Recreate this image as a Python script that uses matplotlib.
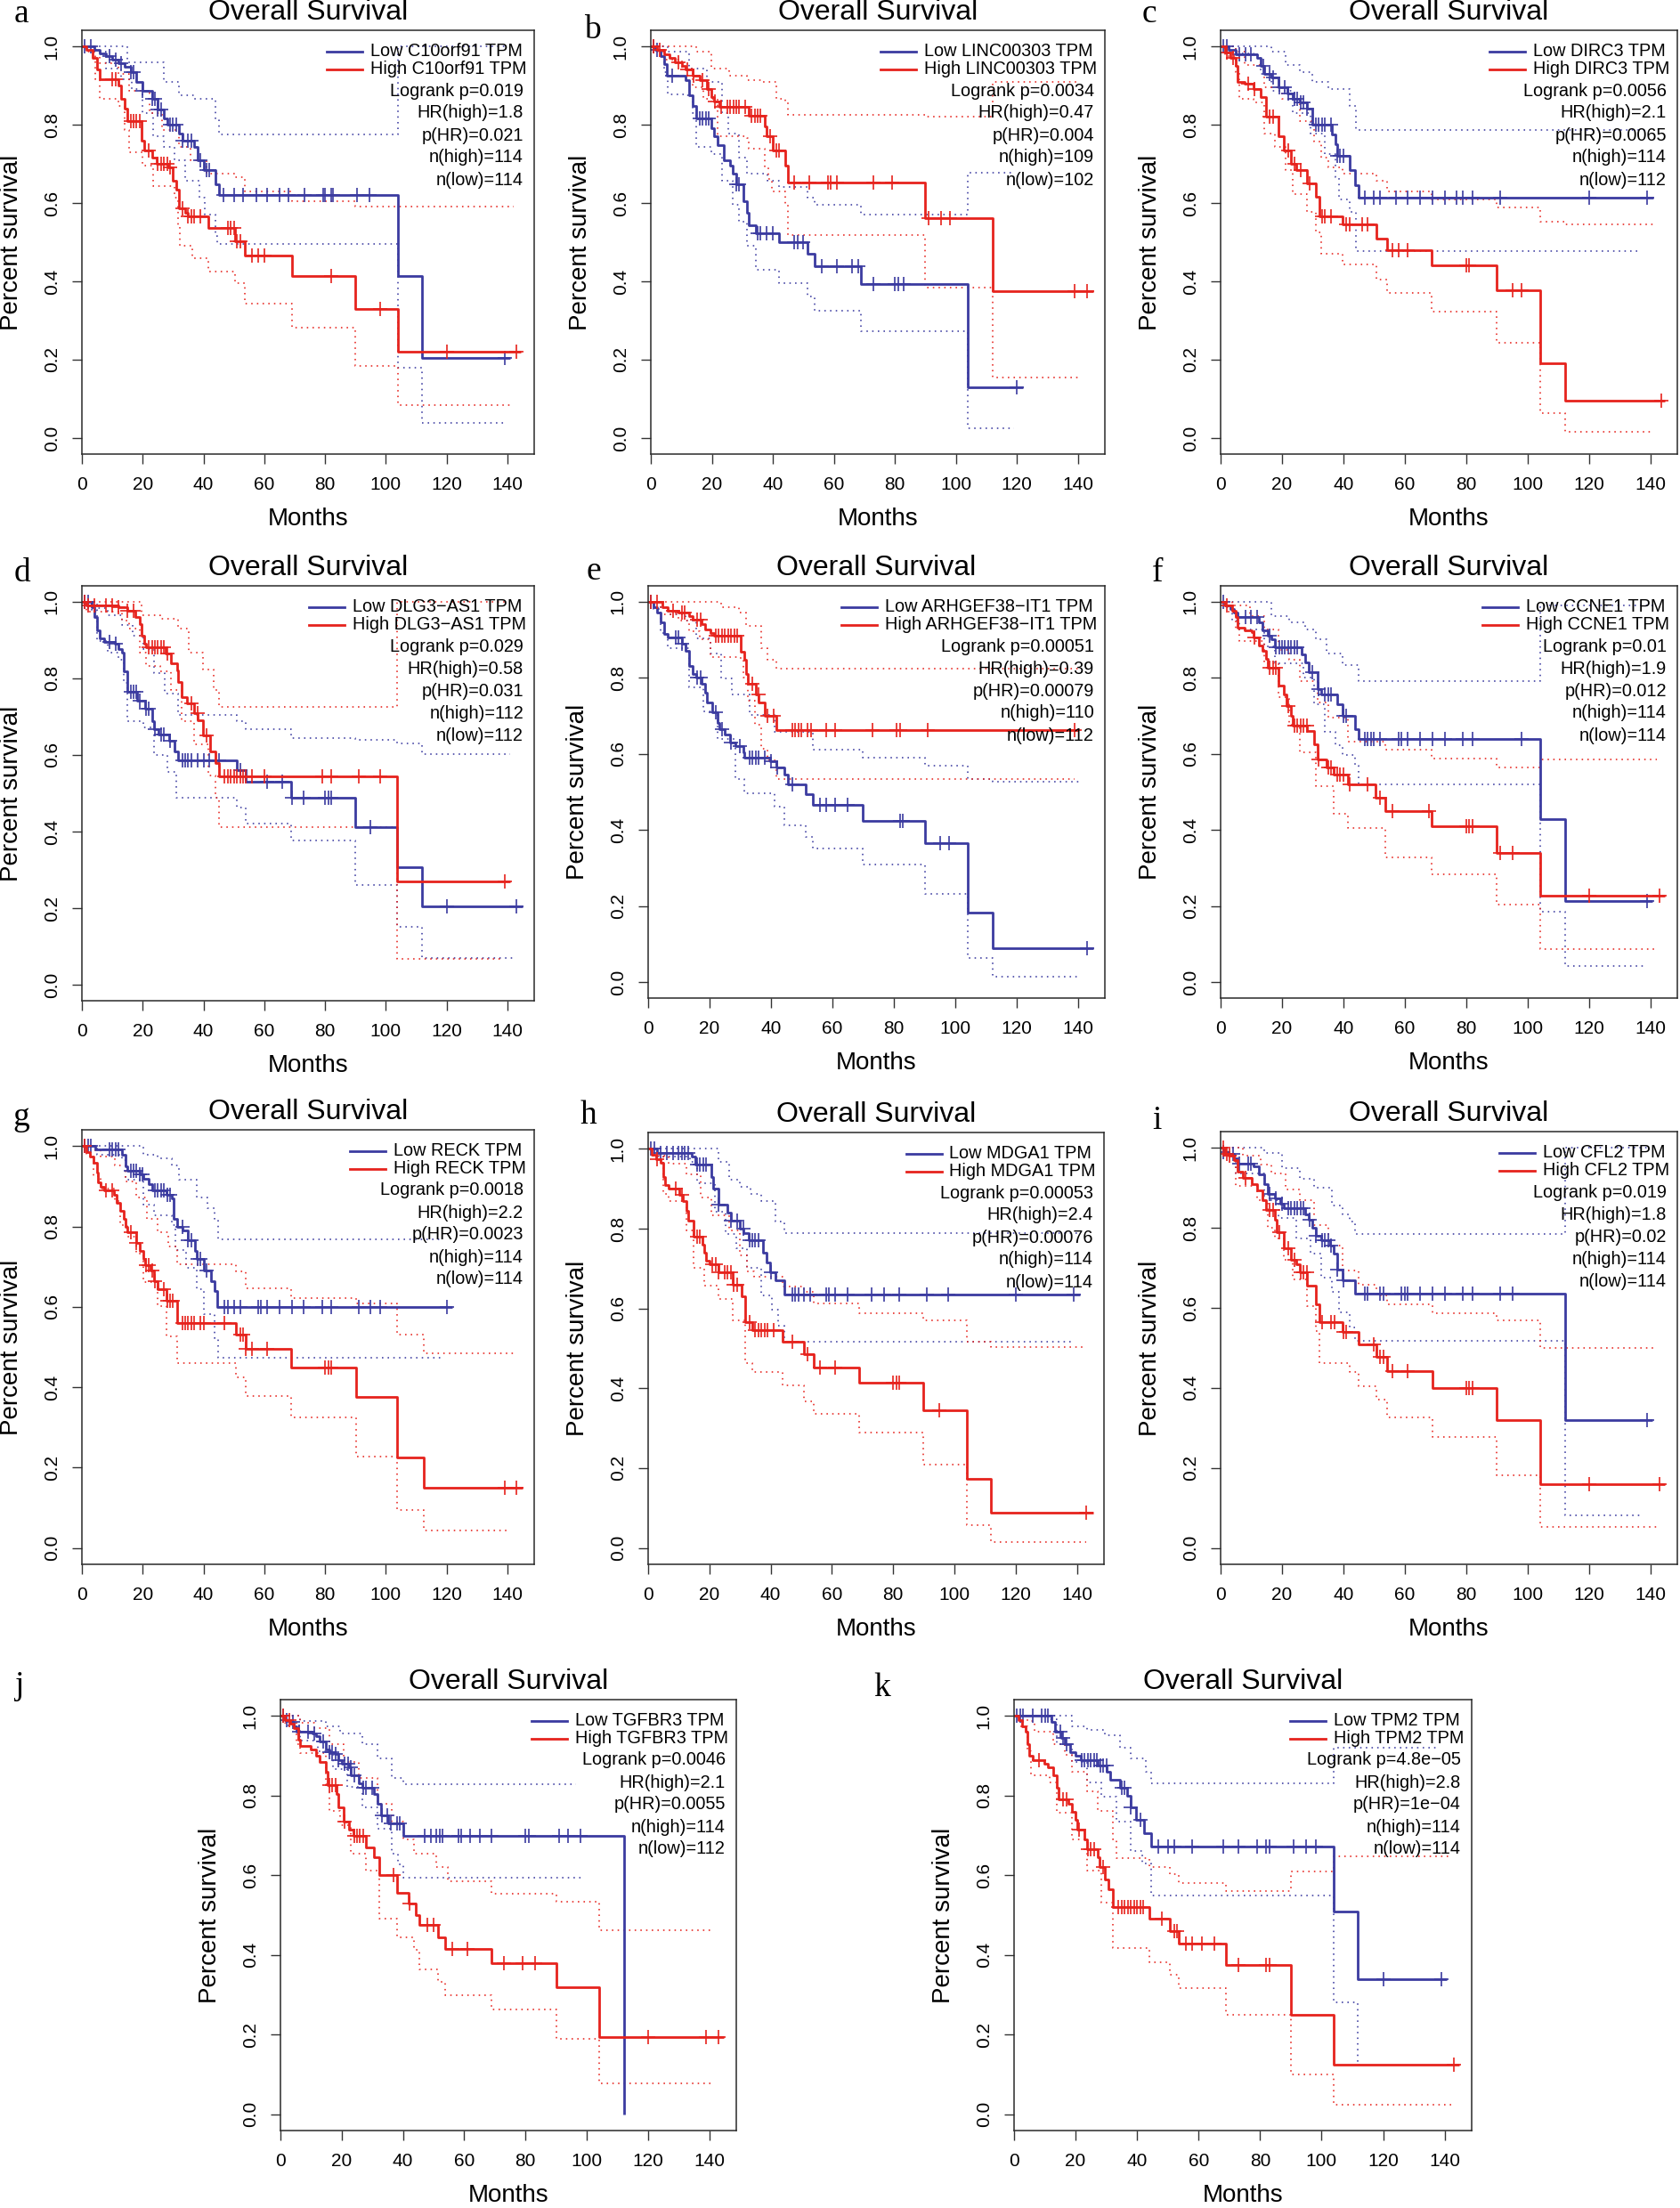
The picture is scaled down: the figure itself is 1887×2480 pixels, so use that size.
import matplotlib
matplotlib.use('Agg')
import matplotlib.pyplot as plt

plt.rcParams['font.family'] = ['Liberation Sans', 'DejaVu Sans']

BLUE = '#3b3ba0'
RED = '#e6231d'

panel_letters = ['a', 'b', 'c', 'd', 'e', 'f', 'g', 'h', 'i', 'j', 'k']
genes = ['C10orf91', 'LINC00303', 'DIRC3', 'DLG3\u2212AS1', 'ARHGEF38\u2212IT1', 'CCNE1',
         'RECK', 'MDGA1', 'CFL2', 'TGFBR3', 'TPM2']
logrank_p = ['0.019', '0.0034', '0.0056', '0.029', '0.00051', '0.01', '0.0018', '0.00053',
             '0.019', '0.0046', '4.8e\u221205']
hr_high = ['1.8', '0.47', '2.1', '0.58', '0.39', '1.9', '2.2', '2.4', '1.8', '2.1', '2.8']
p_hr = ['0.021', '0.004', '0.0065', '0.031', '0.00079', '0.012', '0.0023', '0.00076', '0.02',
        '0.0055', '1e\u221204']
n_high = [114, 109, 114, 112, 110, 114, 114, 114, 114, 114, 114]
n_low = [114, 102, 112, 112, 112, 114, 114, 114, 114, 112, 114]

x_ticks = [0, 20, 40, 60, 80, 100, 120, 140]
y_ticks = [0.0, 0.2, 0.4, 0.6, 0.8, 1.0]
y_tick_labels = ['0.0', '0.2', '0.4', '0.6', '0.8', '1.0']

# ---------------- panel a ----------------
a_low_km = [(0, 1), (4, 0.991), (6, 0.982), (8, 0.974), (10, 0.965), (12, 0.957), (14, 0.948), (16, 0.935),
            (18, 0.909), (20, 0.887), (23, 0.865), (25, 0.839), (27, 0.817), (28, 0.80), (32, 0.778),
            (33, 0.759), (37, 0.743), (38, 0.709), (40, 0.683), (44, 0.648), (45, 0.62), (104, 0.413),
            (112, 0.205), (141, 0.205)]
a_low_cens = [1, 3, 9, 11, 13, 16, 17, 20, 23, 24, 25, 26, 29, 30, 31, 33, 35, 36, 39, 41, 42, 46.7, 50, 53,
              57.4, 60.9, 65, 67.9, 73.2, 79.3, 80.1, 81.9, 82.5, 90.6, 94.7, 139]
a_low_up = [(0, 1), (10, 1), (15, 0.96), (27, 0.91), (32, 0.874), (37, 0.865), (44, 0.813), (45, 0.774),
            (104, 1.0), (139, 1.0)]
a_low_lo = [(0, 1), (3.8, 0.987), (8, 0.943), (13, 0.917), (16.5, 0.89), (20, 0.83), (23.5, 0.77), (27, 0.743),
            (30.5, 0.709), (34, 0.656), (38.7, 0.613), (40.5, 0.57), (44, 0.517), (44.6, 0.496), (104, 0.18),
            (112, 0.039), (139, 0.039)]
a_high_km = [(0, 1), (1.5, 0.99), (3.5, 0.97), (5, 0.94), (6, 0.917), (12, 0.9), (13, 0.865), (14, 0.84),
             (15, 0.809), (19.5, 0.76), (20.5, 0.735), (23, 0.717), (24.5, 0.70), (28.5, 0.69), (30, 0.657),
             (31, 0.635), (32, 0.587), (34, 0.574), (35, 0.565), (41.7, 0.537), (50.4, 0.502), (53.7, 0.465),
             (69, 0.413), (90, 0.33), (104, 0.22), (144.3, 0.22)]
a_high_cens = [10, 11, 16, 17, 18, 19, 22, 25, 26, 27, 28, 29, 33, 35, 36, 37, 39, 48, 49, 50, 51, 52, 56, 58,
               60, 82, 98, 120, 143]
a_high_up = [(0, 1), (4.3, 0.99), (6, 0.957), (12, 0.93), (15.4, 0.887), (22.4, 0.83), (26.5, 0.787),
             (32, 0.743), (35.7, 0.709), (41.1, 0.674), (50.4, 0.665), (53.7, 0.63), (69, 0.604), (90, 0.591),
             (142, 0.591)]
a_high_lo = [(0, 1), (1.4, 0.987), (4.3, 0.917), (6, 0.865), (12, 0.848), (14.2, 0.787), (15.4, 0.73),
             (20, 0.696), (23.5, 0.643), (30.5, 0.613), (31.7, 0.543), (32.3, 0.491), (36.4, 0.458),
             (41.7, 0.426), (50.4, 0.396), (53.7, 0.343), (69, 0.281), (90, 0.183), (104, 0.083), (142, 0.083)]

# ---------------- panel b ----------------
b_low_km = [(0, 1), (1.5, 0.99), (3.3, 0.975), (4.4, 0.955), (5.3, 0.926), (11.5, 0.913), (12.6, 0.874),
            (13.8, 0.848), (15, 0.817), (19.7, 0.79), (20.8, 0.77), (22, 0.748), (23.8, 0.709), (26, 0.696),
            (26.7, 0.674), (27.9, 0.648), (30.2, 0.604), (31.4, 0.574), (32, 0.543), (34.3, 0.522), (41.9, 0.50),
            (51.3, 0.47), (53.6, 0.439), (68.9, 0.394), (104, 0.13), (122, 0.13)]
b_low_cens = [1, 2, 7, 16, 17, 18, 19, 28, 29, 35, 36, 38, 40, 47, 48, 50, 56, 61, 66, 68, 73, 80, 81, 83, 120]
b_low_up = [(0, 1), (5.6, 0.987), (12.6, 0.943), (18.5, 0.909), (23.2, 0.83), (25.5, 0.778), (29, 0.717),
            (31.4, 0.674), (38.3, 0.657), (41.9, 0.64), (51.3, 0.613), (53.6, 0.596), (68.9, 0.57), (104, 0.678),
            (119, 0.678)]
b_low_lo = [(0, 1), (4.4, 0.935), (5.6, 0.878), (11.5, 0.874), (13.8, 0.83), (15, 0.743), (19.7, 0.726),
            (23.2, 0.657), (26.7, 0.596), (29, 0.552), (31.4, 0.491), (34.3, 0.43), (41.9, 0.396), (51.3, 0.361),
            (53.6, 0.324), (68.9, 0.272), (104, 0.026), (119, 0.026)]
b_high_km = [(0, 1), (2, 0.99), (4.5, 0.98), (6.2, 0.97), (8, 0.96), (10.3, 0.95), (11.5, 0.94), (13.8, 0.925),
             (16, 0.913), (18.5, 0.89), (19.7, 0.87), (20.8, 0.86), (22.6, 0.845), (32, 0.822), (37.2, 0.796),
             (38, 0.77), (40, 0.735), (44, 0.696), (44.8, 0.652), (90, 0.561), (112, 0.374), (145, 0.374)]
b_high_cens = [1, 3, 9, 12, 14, 17, 19, 21, 23, 25, 26, 27, 28, 29, 31, 33, 34, 35, 36, 39, 41, 42, 47, 52, 58,
               59, 61, 73, 79, 91, 95, 98, 139, 143]
b_high_up = [(0, 1), (10.3, 1.0), (15, 0.987), (19.7, 0.943), (25.6, 0.926), (31.5, 0.913), (36.8, 0.909),
             (41, 0.865), (44, 0.857), (44.8, 0.824), (90, 0.82), (112, 0.909), (140, 0.909)]
b_high_lo = [(0, 1), (1.5, 0.987), (4.4, 0.965), (10.3, 0.943), (13.8, 0.896), (17.3, 0.865), (22, 0.77),
             (31.4, 0.765), (32, 0.739), (37.2, 0.691), (38.4, 0.661), (39.6, 0.63), (44.2, 0.596), (44.8, 0.519),
             (90, 0.383), (112, 0.154), (141, 0.154)]

# ---------------- panel c ----------------
c_low_km = [(0, 1), (2.7, 0.99), (5, 0.98), (12, 0.97), (13, 0.95), (14.3, 0.93), (16.6, 0.92), (18.9, 0.895),
            (21.8, 0.88), (23.5, 0.865), (25.8, 0.857), (28, 0.84), (30, 0.80), (36.2, 0.775), (37.4, 0.75),
            (38, 0.72), (42, 0.685), (43.8, 0.645), (45, 0.613), (141, 0.613)]
c_low_cens = [1, 2, 6, 8, 10, 14, 16, 17, 19, 21, 22, 24, 25, 26, 27, 28, 31, 32, 33, 34, 36, 38, 39, 40, 47,
              50, 52, 57, 61, 65, 69, 73, 77, 79, 82, 91, 120, 139]
c_low_up = [(0, 1), (12, 1), (16.6, 0.987), (21.2, 0.952), (25.8, 0.935), (29.9, 0.909), (35.1, 0.891),
            (42, 0.848), (44.2, 0.787), (139, 0.787)]
c_low_lo = [(0, 1), (5, 0.983), (10.8, 0.978), (13, 0.93), (16.6, 0.887), (23.5, 0.83), (29.3, 0.778),
            (33.9, 0.726), (37.4, 0.665), (38.6, 0.609), (42, 0.578), (44.2, 0.478), (137, 0.478)]
c_high_km = [(0, 1), (1.5, 0.985), (3.2, 0.97), (4.8, 0.95), (5.6, 0.91), (7.9, 0.905), (10.8, 0.89), (13, 0.87),
             (14.8, 0.82), (18.9, 0.77), (20.6, 0.735), (23, 0.70), (24.7, 0.685), (28, 0.65), (31, 0.615),
             (32.2, 0.565), (39.7, 0.545), (50.7, 0.51), (54.2, 0.48), (68.7, 0.44), (89.8, 0.377), (104, 0.19),
             (112.2, 0.095), (144.6, 0.095)]
c_high_cens = [2, 4, 9, 11, 16, 17, 22, 24, 26, 29, 33, 34, 36, 41, 42, 46, 48, 56, 58, 61, 80, 81, 95, 98, 143.5]
c_high_up = [(0, 1), (5, 0.987), (7.9, 0.952), (14.2, 0.896), (20, 0.865), (25.8, 0.809), (30.4, 0.757),
             (32.7, 0.717), (35, 0.691), (39.7, 0.674), (50.7, 0.657), (54.2, 0.63), (68.7, 0.609), (89.8, 0.589),
             (104, 0.552), (112.2, 0.545), (142, 0.545)]
c_high_lo = [(0, 1), (1.5, 0.974), (5, 0.935), (6.1, 0.865), (10.8, 0.857), (14.2, 0.778), (17.7, 0.743),
             (21.2, 0.683), (23.5, 0.622), (28.2, 0.578), (31, 0.526), (32.8, 0.47), (39.7, 0.443), (50.7, 0.404),
             (54.2, 0.37), (68.7, 0.322), (89.8, 0.243), (104, 0.063), (112.2, 0.015), (141, 0.015)]

# ---------------- panel d ----------------
d_low_km = [(0, 1), (3.2, 0.985), (4, 0.96), (4.9, 0.925), (6, 0.905), (7.2, 0.895), (10.7, 0.89), (11.9, 0.875),
            (13.1, 0.867), (13.7, 0.818), (14.9, 0.764), (18.3, 0.742), (20.7, 0.72), (23, 0.689), (23.6, 0.667),
            (25.3, 0.653), (28.8, 0.636), (30.6, 0.609), (31.7, 0.587), (51, 0.56), (53.9, 0.531), (68.8, 0.489),
            (89.8, 0.412), (103.8, 0.307), (112, 0.206), (145, 0.206)]
d_low_cens = [1, 2, 9, 11, 16, 17, 18, 19, 21, 22, 24, 26, 27, 29, 33, 34, 35, 36, 38, 40, 42, 45, 52, 61, 66,
              69, 73, 80, 81, 82, 95, 120, 143]
d_low_up = [(0, 1), (4.9, 0.982), (8.4, 0.964), (13.1, 0.938), (16.6, 0.911), (20.1, 0.876), (23.6, 0.813),
            (27.1, 0.76), (31.7, 0.705), (51, 0.689), (53.9, 0.667), (68.8, 0.644), (89.8, 0.64), (103.8, 0.631),
            (112, 0.602), (141, 0.602)]
d_low_lo = [(0, 1), (3.2, 0.978), (4.9, 0.898), (8.4, 0.867), (11.9, 0.849), (13.7, 0.787), (14.9, 0.689),
            (20.1, 0.671), (23.6, 0.6), (28.2, 0.556), (31.1, 0.489), (51, 0.462), (53.9, 0.422), (68.8, 0.376),
            (89.8, 0.262), (103.8, 0.151), (112, 0.071), (142, 0.071)]
d_high_km = [(0, 1), (1.4, 0.99), (11.9, 0.985), (14.8, 0.975), (17.7, 0.96), (18.9, 0.94), (19.5, 0.91),
             (20.6, 0.89), (21.2, 0.88), (27.6, 0.865), (29.4, 0.84), (31.2, 0.82), (31.7, 0.79), (32.9, 0.75),
             (34.7, 0.735), (37, 0.71), (38.2, 0.69), (39.9, 0.65), (42.2, 0.61), (44, 0.58), (45.2, 0.545),
             (103.8, 0.27), (140.8, 0.27)]
d_high_cens = [1, 2, 4, 8, 10, 12, 15, 17, 22, 23, 24, 25, 26, 27, 28, 36, 38, 41, 47, 48, 49, 50, 51, 52, 53,
               54, 56, 60, 79, 82, 91, 98, 139]
d_high_up = [(0, 1), (18.3, 1.0), (19.5, 0.964), (25.8, 0.956), (31.7, 0.929), (35.2, 0.867), (39.9, 0.822),
             (43.4, 0.769), (45.2, 0.726), (103.8, 1.0), (140, 1.0)]
d_high_lo = [(0, 1), (1.4, 0.973), (13.1, 0.951), (15.4, 0.929), (18.9, 0.867), (21.2, 0.831), (25.9, 0.818),
             (29.4, 0.769), (32.9, 0.689), (37, 0.627), (41.6, 0.547), (44, 0.489), (45.2, 0.412),
             (103.8, 0.068), (138, 0.068)]

# ---------------- panel e ----------------
e_low_km = [(0, 1), (1.7, 0.985), (2.9, 0.97), (4.1, 0.945), (5.2, 0.915), (6.4, 0.905), (11, 0.89), (12.2, 0.87),
            (13.4, 0.83), (14.6, 0.81), (15.7, 0.80), (17.5, 0.785), (18.6, 0.76), (19.2, 0.735), (21, 0.71),
            (22.7, 0.68), (23.3, 0.665), (25, 0.65), (26.8, 0.63), (28.5, 0.62), (30.9, 0.605), (31.4, 0.59),
            (39.6, 0.58), (41.9, 0.565), (44.3, 0.545), (45.4, 0.52), (51.2, 0.495), (53.6, 0.465),
            (69.9, 0.425), (90.3, 0.365), (104, 0.183), (112.2, 0.09), (145, 0.09)]
e_low_cens = [1, 9, 10, 11, 16, 17, 22, 24, 27, 30, 33, 34, 35, 36, 38, 40, 42, 47, 56, 58, 61, 65, 82, 83, 95,
              98, 143]
e_low_up = [(0, 1), (4.1, 0.985), (6.4, 0.967), (12.2, 0.949), (15.7, 0.904), (20.4, 0.864), (23.9, 0.797),
            (27.4, 0.757), (33.2, 0.703), (41.3, 0.658), (53.6, 0.612), (69.9, 0.589), (90.3, 0.569),
            (104, 0.533), (112.2, 0.526), (141, 0.526)]
e_low_lo = [(0, 1), (1.7, 0.98), (4.1, 0.918), (6.4, 0.877), (13.4, 0.775), (18.1, 0.712), (22.7, 0.64),
            (28.5, 0.533), (31.4, 0.496), (41.3, 0.462), (44.3, 0.412), (51.2, 0.381), (53.6, 0.351),
            (69.9, 0.309), (90.3, 0.233), (104, 0.064), (112.2, 0.016), (141, 0.016)]
e_high_km = [(0, 1), (4.7, 0.985), (6.4, 0.975), (9.9, 0.97), (13.4, 0.962), (14.6, 0.953), (17.5, 0.94),
             (18.6, 0.927), (20.4, 0.918), (21.5, 0.91), (30.3, 0.869), (31.4, 0.846), (32, 0.81), (32.6, 0.784),
             (35, 0.757), (36.1, 0.734), (37.9, 0.699), (41.9, 0.663), (140, 0.663)]
e_high_cens = [1, 3, 8, 11, 12, 16, 17, 22, 23, 24, 25, 26, 27, 28, 29, 34, 36, 39, 41, 47, 48, 49, 50, 52, 53,
               58, 61, 73, 81, 82, 91, 139]
e_high_up = [(0, 1), (21.5, 1.0), (23.9, 0.985), (29.7, 0.971), (32, 0.936), (36.7, 0.877), (39, 0.846),
             (41.9, 0.824), (140, 0.824)]
e_high_lo = [(0, 1), (4.1, 0.967), (9.9, 0.949), (13.4, 0.922), (16.9, 0.9), (20.4, 0.855), (29.7, 0.851),
             (30.9, 0.801), (32.6, 0.739), (34.9, 0.676), (36.7, 0.614), (39, 0.582), (41.9, 0.533),
             (139, 0.533)]

# ---------------- panel f ----------------
f_low_km = [(0, 1), (1.5, 0.99), (3.2, 0.98), (4.4, 0.97), (5.6, 0.96), (12.5, 0.945), (13.7, 0.925),
            (15.4, 0.91), (16.5, 0.90), (17.7, 0.88), (26.4, 0.86), (27.6, 0.84), (28.7, 0.815), (31.6, 0.77),
            (32.8, 0.755), (38, 0.73), (39.7, 0.70), (43.8, 0.665), (45, 0.64), (104, 0.428), (112.2, 0.213),
            (140.6, 0.213)]
f_low_cens = [1, 8, 10, 12, 16, 18, 19, 20, 21, 22, 23, 24, 25, 30, 32, 34, 35, 36, 40, 41, 47, 48, 49, 50, 52,
              58, 59, 61, 65, 69, 73, 79, 82, 98, 139]
f_low_up = [(0, 1), (12, 1), (16.6, 0.962), (22.4, 0.945), (27.6, 0.927), (31, 0.9), (34.4, 0.864),
            (39.7, 0.833), (45, 0.791), (104, 0.99), (141, 0.99)]
f_low_lo = [(0, 1), (1.5, 0.985), (3.8, 0.949), (6.1, 0.927), (14.3, 0.882), (17.7, 0.837), (27, 0.801),
            (30.5, 0.73), (34, 0.658), (37.4, 0.623), (39.7, 0.596), (43.8, 0.569), (45, 0.52), (104, 0.186),
            (112.2, 0.043), (139, 0.043)]
f_high_km = [(0, 1), (1.5, 0.99), (3.8, 0.975), (5, 0.96), (5.6, 0.93), (7.9, 0.925), (10.2, 0.92),
             (10.8, 0.905), (12.5, 0.885), (13.7, 0.87), (14.8, 0.85), (15.4, 0.825), (18.9, 0.78), (20.6, 0.755),
             (21.4, 0.725), (23, 0.70), (23.5, 0.675), (28.2, 0.66), (30.5, 0.625), (31.6, 0.585), (34.5, 0.565),
             (36.8, 0.545), (41.5, 0.52), (50.4, 0.485), (53.6, 0.45), (68.7, 0.41), (89.8, 0.34), (104, 0.227),
             (144.6, 0.227)]
f_high_cens = [2, 11, 16, 17, 18, 22, 24, 25, 26, 27, 28, 32, 35, 36, 38, 39, 40, 42, 48, 52, 56, 68, 80, 81,
               82, 91, 95, 120, 143]
f_high_up = [(0, 1), (3.8, 0.989), (9.6, 0.962), (14.3, 0.927), (18.9, 0.873), (22.4, 0.846), (25.8, 0.792),
             (31.6, 0.734), (35.1, 0.694), (41.5, 0.631), (53.6, 0.612), (68.7, 0.587), (89.8, 0.564),
             (104, 0.585), (142, 0.585)]
f_high_lo = [(0, 1), (2.7, 0.971), (5, 0.927), (6.1, 0.895), (14.3, 0.837), (18.9, 0.748), (22.4, 0.676),
             (25.8, 0.605), (31.1, 0.515), (36.8, 0.443), (41.5, 0.406), (53.6, 0.329), (68.7, 0.284),
             (89.8, 0.204), (104, 0.088), (142, 0.088)]

# ---------------- panel g ----------------
g_low_km = [(0, 1), (4.3, 0.993), (13.2, 0.98), (14.3, 0.95), (14.9, 0.94), (19, 0.93), (20.2, 0.92), (22, 0.905),
            (23.1, 0.89), (27.8, 0.88), (29.6, 0.87), (30.2, 0.82), (31.4, 0.80), (33.1, 0.79), (34.9, 0.765),
            (37.2, 0.74), (37.8, 0.72), (40.2, 0.69), (42.5, 0.665), (43.7, 0.64), (44.5, 0.60), (121.8, 0.60)]
g_low_cens = [1, 2, 3, 9, 10, 11, 12, 16, 17, 18, 19, 20, 24, 25, 26, 27, 28, 29, 33, 35, 36, 38, 39, 41, 47,
              48, 50, 52, 58, 59, 61, 65, 69, 73, 79, 82, 91, 95, 98, 120]
g_low_up = [(0, 1), (13.7, 1.0), (20.2, 0.98), (24.9, 0.969), (29.6, 0.952), (31.9, 0.917), (37.8, 0.873),
            (41.3, 0.846), (43.7, 0.816), (44.9, 0.768), (119, 0.768)]
g_low_lo = [(0, 1), (4.9, 0.978), (13.2, 0.965), (14.3, 0.917), (20.2, 0.855), (23.7, 0.829), (29.6, 0.803),
            (30.8, 0.741), (34.3, 0.697), (37.8, 0.645), (40.2, 0.583), (43.7, 0.522), (44.9, 0.474),
            (119, 0.474)]
g_high_km = [(0, 1), (1.4, 0.985), (2.6, 0.975), (3.8, 0.96), (4.9, 0.935), (5.3, 0.91), (6.1, 0.90), (7.3, 0.89),
             (10.6, 0.88), (11.4, 0.86), (12.6, 0.84), (13.7, 0.82), (14.3, 0.80), (14.9, 0.785), (17.9, 0.76),
             (19, 0.74), (20.2, 0.72), (20.8, 0.705), (22.5, 0.69), (23.7, 0.665), (24.9, 0.645), (27.8, 0.615),
             (31.4, 0.56), (50.7, 0.53), (54, 0.495), (68.9, 0.45), (90.1, 0.375), (103.8, 0.225),
             (112.4, 0.15), (145, 0.15)]
g_high_cens = [1, 8, 10, 16, 18, 21, 22, 23, 24, 27, 28, 29, 30, 33, 34, 35, 36, 37, 39, 40, 47, 52, 53, 54, 56,
               61, 80, 81, 82, 139, 143]
g_high_up = [(0, 1), (3.8, 0.991), (6.1, 0.974), (10.8, 0.952), (14.3, 0.912), (17.9, 0.873), (21.4, 0.82),
             (24.9, 0.785), (28.4, 0.75), (31.4, 0.706), (50.7, 0.689), (54, 0.646), (68.9, 0.623),
             (90.1, 0.608), (103.8, 0.532), (112.4, 0.485), (142, 0.485)]
g_high_lo = [(0, 1), (1.4, 0.978), (3.8, 0.925), (6.1, 0.895), (10.8, 0.864), (12.6, 0.803), (14.9, 0.776),
             (17.9, 0.732), (20.2, 0.662), (24.9, 0.601), (27.8, 0.526), (31.4, 0.461), (50.7, 0.425),
             (54, 0.377), (68.9, 0.325), (90.1, 0.228), (103.8, 0.094), (112.4, 0.044), (141, 0.044)]

# ---------------- panel h ----------------
h_low_km = [(0, 1), (3, 0.99), (14.2, 0.98), (15.3, 0.96), (20.6, 0.93), (21.2, 0.90), (23, 0.86), (25.9, 0.84),
            (27, 0.82), (30, 0.80), (31.1, 0.79), (32.9, 0.77), (37.6, 0.74), (38.7, 0.715), (39.9, 0.69),
            (41.7, 0.67), (44.6, 0.636), (141, 0.636)]
h_low_cens = [1, 2, 4, 6, 8, 10, 11, 12, 13, 16, 17, 18, 19, 23, 27, 29, 31, 33, 34, 35, 36, 40, 47, 48, 49, 51,
              53, 58, 59, 61, 65, 73, 77, 82, 91, 98, 120, 139]
h_low_up = [(0, 1), (18.3, 1.0), (23, 0.967), (26.5, 0.922), (30, 0.905), (33.5, 0.887), (37, 0.87),
            (41.7, 0.817), (44.6, 0.79), (140, 0.79)]
h_low_lo = [(0, 1), (3, 0.98), (13.6, 0.967), (15.9, 0.914), (21.8, 0.843), (25.3, 0.786), (28.8, 0.751),
            (32.3, 0.702), (37, 0.632), (40.5, 0.596), (42.3, 0.557), (44.6, 0.517), (139, 0.517)]
h_high_km = [(0, 1), (1.3, 0.985), (2.5, 0.975), (4.2, 0.965), (4.8, 0.93), (5.4, 0.91), (6.6, 0.90),
             (10.1, 0.885), (11.2, 0.87), (12.4, 0.845), (13, 0.82), (14.8, 0.78), (17.7, 0.76), (18.3, 0.74),
             (18.8, 0.72), (20, 0.71), (22.9, 0.69), (27.6, 0.66), (30.6, 0.63), (31.7, 0.565), (34.1, 0.545),
             (44, 0.516), (51, 0.485), (54, 0.453), (68.8, 0.413), (89.9, 0.345), (104, 0.173), (111.9, 0.088),
             (145.3, 0.088)]
h_high_cens = [3, 9, 11, 16, 17, 21, 22, 23, 25, 26, 27, 28, 29, 33, 35, 36, 37, 38, 39, 41, 47, 52, 56, 61, 80,
               81, 82, 95, 143]
h_high_up = [(0, 1), (4.2, 0.984), (6.6, 0.962), (12.4, 0.936), (17.1, 0.878), (20.6, 0.834), (26.5, 0.795),
             (30, 0.733), (32.3, 0.693), (34.6, 0.68), (44, 0.654), (51, 0.641), (54, 0.612), (68.8, 0.588),
             (89.9, 0.57), (104, 0.517), (111.9, 0.504), (143, 0.504)]
h_high_lo = [(0, 1), (1.3, 0.984), (4.8, 0.887), (6.6, 0.87), (12.4, 0.795), (14.8, 0.702), (18.3, 0.658),
             (22.9, 0.623), (27.6, 0.57), (31.7, 0.463), (34.1, 0.44), (44, 0.407), (51, 0.367), (54, 0.337),
             (68.8, 0.29), (89.9, 0.209), (104, 0.057), (111.9, 0.015), (143, 0.015)]

# ---------------- panel i ----------------
i_low_km = [(0, 1), (1, 0.99), (2.7, 0.985), (4.4, 0.975), (5.6, 0.96), (10.8, 0.955), (12.5, 0.935),
            (14.3, 0.91), (15.4, 0.885), (17.7, 0.875), (19.5, 0.86), (20.6, 0.85), (27.6, 0.835), (28.7, 0.82),
            (29.9, 0.80), (31, 0.78), (32.8, 0.77), (35.7, 0.755), (36.8, 0.735), (38, 0.695), (39.7, 0.67),
            (43.8, 0.635), (112.2, 0.32), (140.6, 0.32)]
i_low_cens = [1, 4, 6, 9, 10, 16, 18, 20, 22, 23, 24, 25, 26, 27, 29, 31, 33, 34, 35, 36, 38, 40, 47, 48, 52, 53,
              59, 60, 61, 65, 69, 73, 79, 82, 91, 95, 139]
i_low_up = [(0, 1), (10.8, 1.0), (14.3, 0.987), (20, 0.949), (25.8, 0.922), (30.5, 0.9), (36.3, 0.856),
            (39.7, 0.834), (42, 0.817), (43.8, 0.786), (112.2, 1.0), (139, 1.0)]
i_low_lo = [(0, 1), (2.7, 0.98), (5, 0.936), (14.3, 0.87), (18.9, 0.826), (24.7, 0.773), (29.3, 0.737),
            (32.8, 0.676), (36.3, 0.641), (38.6, 0.588), (42.1, 0.552), (43.8, 0.517), (112.2, 0.081),
            (137, 0.081)]
i_high_km = [(0, 1), (1.5, 0.985), (2.7, 0.98), (4.4, 0.97), (5.6, 0.94), (7.3, 0.925), (10.2, 0.91),
             (11.9, 0.895), (13.7, 0.87), (14.8, 0.845), (17.7, 0.82), (18.3, 0.79), (20.6, 0.75), (23, 0.72),
             (24.7, 0.71), (25.8, 0.69), (28.2, 0.655), (31, 0.61), (32.2, 0.565), (39.7, 0.54), (45, 0.51),
             (50.7, 0.478), (54.2, 0.443), (68.9, 0.40), (89.8, 0.32), (104, 0.16), (144.6, 0.16)]
i_high_cens = [1, 2, 3, 8, 16, 17, 19, 22, 24, 26, 27, 28, 33, 36, 37, 40, 41, 50, 52, 53, 56, 61, 80, 81, 82,
               120, 143]
i_high_up = [(0, 1), (7.3, 0.98), (13.1, 0.958), (16.6, 0.936), (21.2, 0.896), (25.8, 0.87), (30.5, 0.808),
             (35.1, 0.755), (39.7, 0.693), (45, 0.658), (50.8, 0.632), (54.2, 0.61), (68.9, 0.586),
             (89.8, 0.57), (104, 0.5), (142, 0.5)]
i_high_lo = [(0, 1), (0.9, 0.98), (5, 0.905), (11.9, 0.87), (15.4, 0.8), (17.7, 0.773), (20.6, 0.72),
             (23.5, 0.671), (28.2, 0.605), (31.1, 0.543), (32.2, 0.463), (42.1, 0.441), (45, 0.404),
             (50.8, 0.37), (54.2, 0.326), (68.9, 0.277), (89.8, 0.182), (104, 0.052), (142, 0.052)]

# ---------------- panel j ----------------
j_low_km = [(0, 1), (1.4, 0.99), (3.3, 0.985), (4.5, 0.975), (5.1, 0.96), (10.5, 0.955), (11.7, 0.95),
            (12.9, 0.935), (14.7, 0.915), (15.9, 0.91), (17.7, 0.905), (18.9, 0.89), (20.1, 0.88), (22.5, 0.87),
            (23.1, 0.85), (25.5, 0.83), (26.7, 0.82), (30.4, 0.805), (31.6, 0.78), (32.8, 0.75), (35.2, 0.73),
            (40, 0.70), (112.3, 0.0)]
j_low_cens = [1, 2, 4, 6, 9, 11, 14, 16, 17, 18, 19, 21, 22, 23, 24, 27, 28, 30, 33, 35, 36, 38, 39, 47, 49, 51,
              52, 53, 58, 59, 62, 65, 69, 80, 81, 91, 94, 98]
j_low_up = [(0, 1), (6.3, 0.987), (14.7, 0.974), (19.5, 0.956), (26.7, 0.929), (31.6, 0.894), (36.4, 0.845),
            (40, 0.828), (96.6, 0.828)]
j_low_lo = [(0, 1), (2.7, 0.973), (6.3, 0.938), (12.3, 0.912), (17.1, 0.867), (21.9, 0.823), (26.7, 0.77),
            (31.6, 0.717), (36.4, 0.655), (38.5, 0.627), (40, 0.594), (98.4, 0.594)]
j_high_km = [(0, 1), (1.4, 0.99), (3.3, 0.98), (4.5, 0.97), (5.7, 0.94), (6.3, 0.925), (9.9, 0.915), (11.7, 0.90),
             (12.9, 0.885), (14.7, 0.86), (15.3, 0.827), (18.3, 0.805), (18.9, 0.77), (20.7, 0.735),
             (22.5, 0.715), (23.7, 0.70), (28, 0.67), (30.4, 0.645), (32.2, 0.60), (38.2, 0.555), (41.8, 0.53),
             (44.2, 0.50), (45.4, 0.475), (51.4, 0.445), (53.9, 0.415), (68.9, 0.38), (90, 0.32),
             (103.9, 0.193), (144.8, 0.193)]
j_high_cens = [1, 3, 16, 17, 18, 21, 24, 25, 26, 27, 37, 42, 48, 50, 56, 61, 73, 79, 83, 120, 139, 143]
j_high_up = [(0, 1), (6.3, 0.982), (11.1, 0.969), (15.9, 0.929), (20.7, 0.885), (25.5, 0.845), (31.6, 0.779),
             (36.4, 0.735), (40, 0.69), (43.6, 0.655), (50.8, 0.62), (54.5, 0.585), (68.9, 0.554), (90, 0.534),
             (103.9, 0.461), (141, 0.461)]
j_high_lo = [(0, 1), (1.4, 0.982), (5.1, 0.929), (6.3, 0.907), (14.7, 0.828), (15.9, 0.762), (19.5, 0.726),
             (23.1, 0.655), (28, 0.611), (32.2, 0.492), (38.2, 0.443), (43.6, 0.412), (45.4, 0.364),
             (51.4, 0.333), (53.9, 0.298), (68.9, 0.262), (90, 0.189), (103.9, 0.077), (141, 0.077)]

# ---------------- panel k ----------------
k_low_km = [(0, 1), (12.2, 0.985), (13.4, 0.96), (15.2, 0.945), (16.4, 0.93), (18.2, 0.91), (20, 0.90),
            (21.8, 0.89), (27.2, 0.875), (30.2, 0.86), (31.4, 0.84), (34.4, 0.82), (36.8, 0.80), (37.8, 0.77),
            (39.8, 0.74), (42.2, 0.705), (44.6, 0.673), (104, 0.508), (111.8, 0.338), (140.6, 0.338)]
k_low_cens = [1, 2, 3, 6, 9, 10, 11, 15, 16, 17, 22, 23, 24, 25, 26, 27, 28, 29, 30, 35, 36, 38, 41, 47, 50, 52,
              58, 68, 73, 79, 82, 83, 91, 95, 98, 120, 139]
k_low_up = [(0, 1), (14, 1.0), (18.8, 0.973), (23.6, 0.964), (29.6, 0.952), (34.4, 0.92), (38, 0.894),
            (42.8, 0.859), (44.6, 0.83), (104, 0.92), (138, 0.92)]
k_low_lo = [(0, 1), (11, 0.991), (14, 0.93), (18.8, 0.885), (23.6, 0.832), (28.4, 0.797), (33.2, 0.735),
            (38, 0.66), (41.6, 0.629), (44.6, 0.55), (104, 0.28), (111.8, 0.125), (112.2, 0.125)]
k_high_km = [(0, 1), (1.4, 0.99), (2.6, 0.975), (3.8, 0.96), (4.4, 0.93), (5, 0.90), (6.2, 0.89), (9.8, 0.88),
             (11, 0.87), (12.8, 0.85), (14, 0.82), (14.6, 0.79), (17.6, 0.78), (18.8, 0.76), (20, 0.74),
             (20.6, 0.715), (23, 0.69), (23.6, 0.665), (27.2, 0.645), (27.8, 0.62), (29.6, 0.59), (30.8, 0.565),
             (32, 0.52), (44, 0.49), (50.6, 0.46), (53.6, 0.428), (69, 0.375), (90, 0.25), (104, 0.125),
             (144.8, 0.125)]
k_high_cens = [8, 16, 17, 21, 24, 25, 26, 29, 34, 35, 36, 37, 38, 39, 40, 41, 42, 48, 52, 53, 56, 58, 61, 65, 73,
               82, 83, 143]
k_high_up = [(0, 1), (4.4, 0.987), (6.8, 0.96), (12.8, 0.929), (16.4, 0.903), (18.8, 0.859), (23.6, 0.81),
             (27.2, 0.761), (32, 0.691), (33.2, 0.642), (44, 0.62), (50.6, 0.602), (53.6, 0.58), (69, 0.56),
             (90, 0.61), (104, 0.647), (142, 0.647)]
k_high_lo = [(0, 1), (2, 0.973), (4.4, 0.912), (5.6, 0.85), (11.6, 0.832), (14, 0.757), (18.8, 0.691),
             (23.6, 0.611), (28.4, 0.532), (32, 0.417), (44, 0.382), (50.6, 0.351), (53.6, 0.316), (69, 0.25),
             (90, 0.1), (104, 0.024), (142, 0.024)]

# ---------------- layout (pixel boxes: left, top, right, bottom) ----------------
boxes = [(92, 34, 600, 510), (731, 34, 1241, 510), (1371, 34, 1884, 510),
         (92, 658, 600, 1124), (728, 658, 1241, 1121), (1371, 658, 1884, 1121),
         (92, 1269, 600, 1757), (728, 1272, 1240, 1757), (1371, 1271, 1884, 1757),
         (315, 1909, 827, 2393), (1139, 1909, 1653, 2393)]
letter_pos = [(16, 25), (656, 43), (1283, 25), (16, 653), (658, 651), (1294, 653),
              (14, 1264), (652, 1262), (1294, 1268), (16, 1903), (981, 1905)]

curves = {
    'a': (a_low_km, a_low_cens, a_low_up, a_low_lo, a_high_km, a_high_cens, a_high_up, a_high_lo),
    'b': (b_low_km, b_low_cens, b_low_up, b_low_lo, b_high_km, b_high_cens, b_high_up, b_high_lo),
    'c': (c_low_km, c_low_cens, c_low_up, c_low_lo, c_high_km, c_high_cens, c_high_up, c_high_lo),
    'd': (d_low_km, d_low_cens, d_low_up, d_low_lo, d_high_km, d_high_cens, d_high_up, d_high_lo),
    'e': (e_low_km, e_low_cens, e_low_up, e_low_lo, e_high_km, e_high_cens, e_high_up, e_high_lo),
    'f': (f_low_km, f_low_cens, f_low_up, f_low_lo, f_high_km, f_high_cens, f_high_up, f_high_lo),
    'g': (g_low_km, g_low_cens, g_low_up, g_low_lo, g_high_km, g_high_cens, g_high_up, g_high_lo),
    'h': (h_low_km, h_low_cens, h_low_up, h_low_lo, h_high_km, h_high_cens, h_high_up, h_high_lo),
    'i': (i_low_km, i_low_cens, i_low_up, i_low_lo, i_high_km, i_high_cens, i_high_up, i_high_lo),
    'j': (j_low_km, j_low_cens, j_low_up, j_low_lo, j_high_km, j_high_cens, j_high_up, j_high_lo),
    'k': (k_low_km, k_low_cens, k_low_up, k_low_lo, k_high_km, k_high_cens, k_high_up, k_high_lo),
}

FW, FH = 1887, 2480
FS_TITLE = 23
FS_LAB = 20
FS_TICK = 15
FS_LEG = 14.3
LW = 2.0

fig = plt.figure(figsize=(FW / 100, FH / 100), dpi=100)
renderer = fig.canvas.get_renderer()


def surv_at(pts, tt):
    val = pts[0][1]
    for t, s in pts:
        if t <= tt:
            val = s
        else:
            break
    return val


def draw_step(ax, pts, color, lw, ls):
    ax.step([p[0] for p in pts], [p[1] for p in pts], where='post', color=color, lw=lw, ls=ls,
            solid_capstyle='butt')


for idx, letter in enumerate(panel_letters):
    x0, y0, x1, y1 = boxes[idx]
    W, H = x1 - x0, y1 - y0
    ax = fig.add_axes([x0 / FW, 1 - y1 / FH, W / FW, H / FH])
    lkm, lc, lup, llo, hkm, hc, hup, hlo = curves[letter]

    dot = (0, (1.0, 3.0))
    for pts, col in ((lup, BLUE), (llo, BLUE), (hup, RED), (hlo, RED)):
        draw_step(ax, pts, col, 1.15, dot)
    for km, cens, col in ((lkm, lc, BLUE), (hkm, hc, RED)):
        draw_step(ax, km, col, LW, '-')
        ax.plot(cens, [surv_at(km, c) for c in cens], ls='none', marker='+', ms=11, mew=1.2, color=col)

    ax.set_xlim(0, 148.8)
    ax.set_ylim(-0.041, 1.041)
    ax.set_xticks(x_ticks)
    ax.set_xticklabels([str(v) for v in x_ticks])
    ax.set_yticks(y_ticks)
    ax.set_yticklabels(y_tick_labels, rotation=90, va='center')
    ax.tick_params(axis='both', direction='out', length=8, width=1.0, labelsize=FS_TICK, color='#333333')
    ax.tick_params(axis='x', pad=10)
    ax.tick_params(axis='y', pad=9.5)
    for sp in ax.spines.values():
        sp.set_linewidth(1.1)
        sp.set_color('#2a2a2a')

    ax.annotate('Overall Survival', xy=(0.5, 1), xycoords='axes fraction', xytext=(0, 20),
                textcoords='offset pixels', ha='center', va='center', fontsize=FS_TITLE)
    ax.annotate('Months', xy=(0.5, 0), xycoords='axes fraction', xytext=(0, -73),
                textcoords='offset pixels', ha='center', va='center', fontsize=FS_LAB)
    ax.annotate('Percent survival', xy=(0, 0.5), xycoords='axes fraction', xytext=(-79, 0),
                textcoords='offset pixels', ha='center', va='center', rotation=90, fontsize=FS_LAB)

    # legend block (R style: text left-aligned, block anchored top-right)
    gene = genes[idx]
    labels = ['Low %s TPM' % gene, 'High %s TPM' % gene]
    widths = []
    for lab in labels:
        t = fig.text(0, 0, lab, fontsize=FS_LEG)
        widths.append(t.get_window_extent(renderer).width)
        t.remove()
    maxw = max(widths)
    xt = 1 - (9 + maxw) / W
    for k, (lab, col) in enumerate(zip(labels, (BLUE, RED))):
        yy = 1 - (23.5 + 20 * k) / H
        ax.text(xt, yy, lab, transform=ax.transAxes, ha='left', va='center', fontsize=FS_LEG)
        xe = xt - 9 / W
        ax.plot([xe - 40 / W, xe], [yy, yy], transform=ax.transAxes, color=col, lw=LW, clip_on=False)
    stats = ['Logrank p=%s' % logrank_p[idx], 'HR(high)=%s' % hr_high[idx], 'p(HR)=%s' % p_hr[idx],
             'n(high)=%d' % n_high[idx], 'n(low)=%d' % n_low[idx]]
    for k, s in enumerate(stats):
        yy = 1 - (68 + 25 * k) / H
        ax.text(1 - 12 / W, yy, s, transform=ax.transAxes, ha='right', va='center', fontsize=FS_LEG)

    lx, ly = letter_pos[idx]
    fig.text(lx / FW, 1 - ly / FH, letter, ha='left', va='baseline', fontsize=27,
             family=['Liberation Serif', 'DejaVu Serif'])

fig.savefig('out.png', dpi=100)
